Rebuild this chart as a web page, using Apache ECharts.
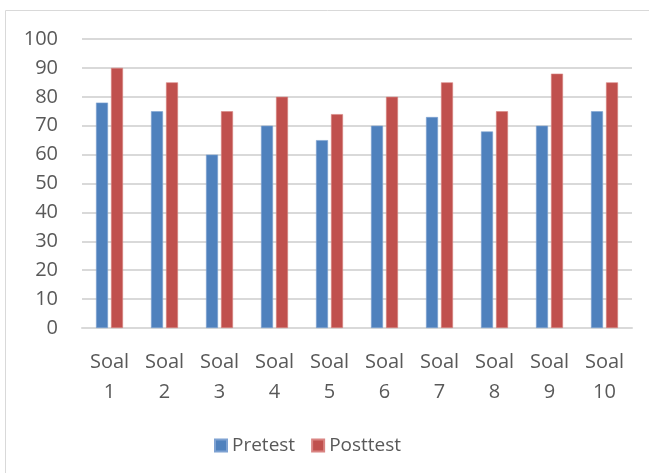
<!DOCTYPE html>
<html>
<head>
<meta charset="utf-8">
<script src="https://cdn.jsdelivr.net/npm/echarts@6/dist/echarts.min.js"></script>
<style>
  html, body { margin: 0; padding: 0; background: #fff; }
  #container { width: 649px; height: 473px; }
</style>
</head>
<body>
<div id="container"></div>
<script>
var categories = ["Soal\n1", "Soal\n2", "Soal\n3", "Soal\n4", "Soal\n5", "Soal\n6", "Soal\n7", "Soal\n8", "Soal\n9", "Soal\n10"];
var pretest = [78, 75, 60, 70, 65, 70, 73, 68, 70, 75];
var posttest = [90, 85, 75, 80, 74, 80, 85, 75, 88, 85];

var myChart = echarts.init(document.getElementById("container"));
var textColor = "#595959";
var font = "Open Sans";

myChart.setOption({
    animation: false,
    textStyle: { fontFamily: font },
    graphic: [
        {
            // chart frame (only top and left edges are visible)
            type: "rect",
            shape: { x: 5.5, y: 10.5, width: 700, height: 500 },
            style: { fill: "none", stroke: "#d9d9d9", lineWidth: 1 },
            silent: true
        }
    ],
    grid: {
        left: 82,
        right: 17,
        top: 39,
        bottom: 145
    },
    legend: {
        data: ["Pretest", "Posttest"],
        top: 431,
        left: 209,
        itemWidth: 12,
        itemHeight: 12,
        itemGap: 16,
        icon: "rect",
        textStyle: { color: textColor, fontSize: 19, fontFamily: font }
    },
    xAxis: {
        type: "category",
        data: categories,
        axisLine: { lineStyle: { color: "#d9d9d9", width: 2 } },
        axisTick: { show: false },
        axisLabel: {
            color: textColor,
            fontSize: 20,
            lineHeight: 30,
            margin: 19,
            interval: 0
        }
    },
    yAxis: {
        type: "value",
        min: 0,
        max: 100,
        interval: 10,
        axisLine: { show: false },
        axisTick: { show: false },
        axisLabel: { color: textColor, fontSize: 20, margin: 24 },
        splitLine: { lineStyle: { color: "#d9d9d9", width: 2 } }
    },
    series: [
        {
            name: "Pretest",
            type: "bar",
            data: pretest,
            barWidth: 12,
            barGap: "25%",
            itemStyle: { color: "#4f81bd", borderColor: "#7ea2d2", borderWidth: 0.6 }
        },
        {
            name: "Posttest",
            type: "bar",
            data: posttest,
            barWidth: 12,
            barGap: "25%",
            itemStyle: { color: "#c0504d", borderColor: "#d98482", borderWidth: 0.6 }
        }
    ]
});
</script>
</body>
</html>
